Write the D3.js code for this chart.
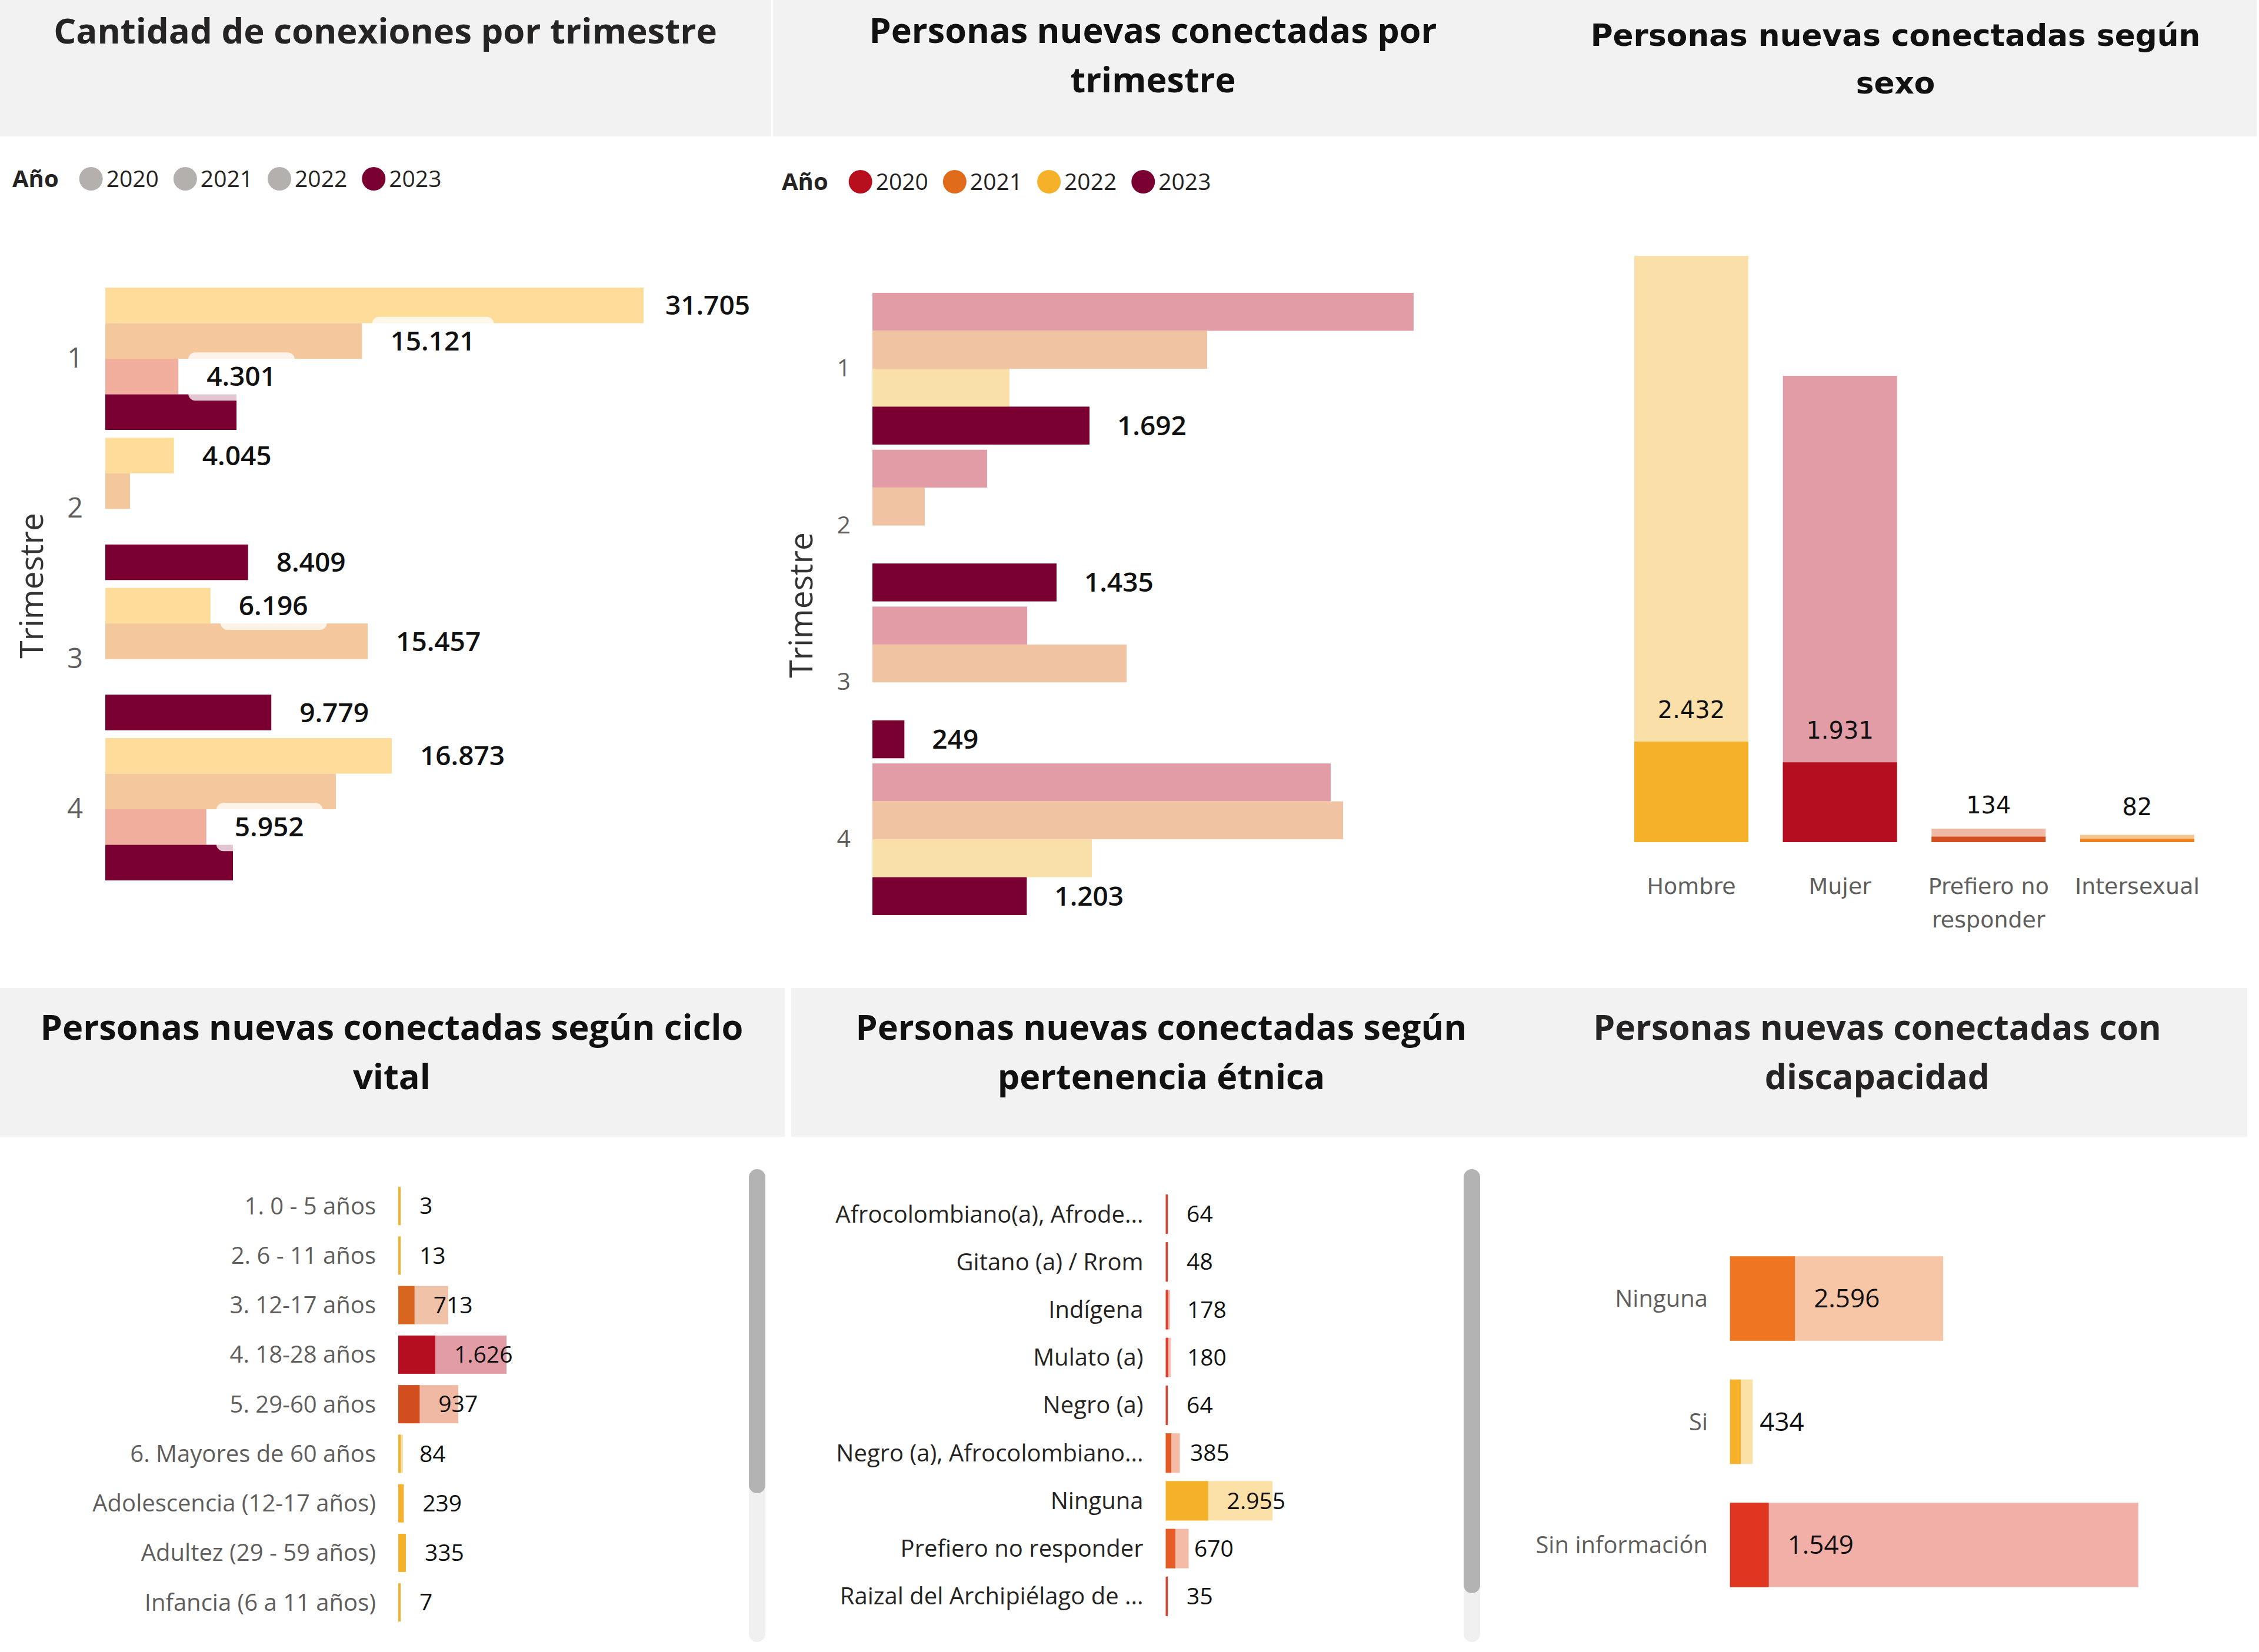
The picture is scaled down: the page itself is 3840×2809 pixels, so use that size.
<!DOCTYPE html>
<html><head><meta charset="utf-8">
<script src="https://cdn.jsdelivr.net/npm/d3@7"></script>
<style>
html,body{margin:0;padding:0;background:#fff;}
svg{display:block;}
</style></head><body>
<script>
// ================= DATA =================
const anios = ["2020", "2021", "2022", "2023"];
const trimestres = ["1", "2", "3", "4"];

// Cantidad de conexiones por trimestre (orden de barras dentro de cada trimestre, como en la imagen)
const conexOrden = ["2022", "2021", "2020", "2023"];
const conex2020 = [4301, null, null, 5952];
const conex2021 = [15121, 1455, 15457, 13583];
const conex2022 = [31705, 4045, 6196, 16873];
const conex2023 = [7727, 8409, 9779, 7519];
const conexEtiqueta2020 = [true, false, false, true];
const conexEtiqueta2021 = [true, false, true, false];
const conexEtiqueta2022 = [true, true, true, true];
const conexEtiqueta2023 = [false, true, true, false];

// Personas nuevas conectadas por trimestre
const pnc2020 = [4218, 894, 1206, 3572];
const pnc2021 = [2609, 408, 1981, 3668];
const pnc2022 = [1068, null, null, 1710];
const pnc2023 = [1692, 1435, 249, 1203];

// Personas nuevas conectadas según sexo
const sexoCategorias = ["Hombre", "Mujer", "Prefiero no responder", "Intersexual"];
const sexoTotal = [14182, 11280, 327, 178];
const sexo2023 = [2432, 1931, 134, 82];

// Ciclo vital
const cicloCategorias = ["1. 0 - 5 años", "2. 6 - 11 años", "3. 12-17 años", "4. 18-28 años",
  "5. 29-60 años", "6. Mayores de 60 años", "Adolescencia (12-17 años)", "Adultez (29 - 59 años)",
  "Infancia (6 a 11 años)"];
const cicloValor = [3, 13, 713, 1626, 937, 84, 239, 335, 7];
const cicloTotal = [3, 13, 2194, 4748, 2632, 206, 239, 335, 7];

// Pertenencia étnica
const etniaCategorias = ["Afrocolombiano(a), Afrode...", "Gitano (a) / Rrom", "Indígena", "Mulato (a)",
  "Negro (a)", "Negro (a), Afrocolombiano...", "Ninguna", "Prefiero no responder",
  "Raizal del Archipiélago de ..."];
const etniaValor = [64, 48, 178, 180, 64, 385, 2955, 670, 35];
const etniaTotal = [64, 48, 308, 370, 64, 985, 7452, 1600, 35];

// Discapacidad
const discCategorias = ["Ninguna", "Si", "Sin información"];
const discValor = [2596, 434, 1549];
const discTotal = [8527, 908, 16329];

// ================= STYLE =================
const SANS = "'Segoe UI', 'Open Sans', sans-serif";
const WIDE = "'DejaVu Sans', Verdana, sans-serif";
const conexColor = {"2022": "#fedc9a", "2021": "#f4c79d", "2020": "#f2ae9c", "2023": "#7b0032"};
const conexLegend = {"2020": "#b3b0ad", "2021": "#b3b0ad", "2022": "#b3b0ad", "2023": "#7b0032"};
const pncColor = {"2020": "#e19ca6", "2021": "#f0c4a3", "2022": "#f9e0a9", "2023": "#7b0032"};
const pncLegend = {"2020": "#b80f1f", "2021": "#e06b1a", "2022": "#f5b12a", "2023": "#7b0032"};
const sexoLight = ["#fae0a8", "#e19ca5", "#f0b9a5", "#f6c690"];
const sexoDark = ["#f5b12a", "#b50e20", "#d34f1f", "#e7821e"];
const cicloDark = ["#f5b12a", "#f5b12a", "#d9661f", "#b50e20", "#d24e1f", "#f5b12a", "#f5b12a", "#f5b12a", "#f5b12a"];
const cicloLight = ["#fae0a8", "#fae0a8", "#f0c3a8", "#e19ca5", "#efb9a4", "#fae0a8", "#fae0a8", "#fae0a8", "#fae0a8"];
const etniaDark = ["#e0402e", "#e0402e", "#e0402e", "#e0402e", "#e0402e", "#e35a25", "#f5b12a", "#e55c26", "#e0402e"];
const etniaLight = ["#f3b3ab", "#f3b3ab", "#f5bfb5", "#f5bfb5", "#f3b3ab", "#f4bba6", "#fbe0a8", "#f4bba6", "#f3b3ab"];
const discDark = ["#ee7623", "#f6b12a", "#e03520"];
const discLight = ["#f7c6a7", "#fbe0a8", "#f2afa7"];

const fmt = d3.formatLocale({decimal: ",", thousands: ".", grouping: [3], currency: ["$", ""]}).format(",d");

const W = 3840, H = 2809;
const svg = d3.select("body").append("svg").attr("width", W).attr("height", H)
  .style("background", "#fff");

// ---------- helpers ----------
function titleBox(x0, x1, y0, y1) {
  svg.append("rect").attr("x", x0).attr("y", y0).attr("width", x1 - x0).attr("height", y1 - y0).attr("fill", "#f2f2f2");
}
function title(lines, cx, baselines, targetWidth, family, color) {
  const t = svg.append("text").attr("font-family", family).attr("font-weight", "bold")
    .attr("font-size", 100).text(lines[0]);
  const w = t.node().getComputedTextLength(); t.remove();
  const fs = 100 * targetWidth / w;
  lines.forEach((ln, i) => {
    svg.append("text").attr("x", cx).attr("y", baselines[i]).attr("text-anchor", "middle")
      .attr("font-family", family).attr("font-weight", "bold").attr("font-size", fs)
      .attr("fill", color).text(ln);
  });
}
function legend(x, y, colors) {
  const g = svg.append("g");
  const lab = g.append("text").attr("x", x).attr("y", y).attr("dy", "0.35em")
    .attr("font-family", SANS).attr("font-weight", "bold").attr("font-size", 40).attr("fill", "#252423").text("Año");
  let cx = x + lab.node().getComputedTextLength() + 55;
  anios.forEach(a => {
    g.append("circle").attr("cx", cx).attr("cy", y).attr("r", 20).attr("fill", colors[a]);
    const t = g.append("text").attr("x", cx + 26).attr("y", y).attr("dy", "0.35em")
      .attr("font-family", SANS).attr("font-size", 39).attr("fill", "#252423").text(a);
    cx = cx + 26 + t.node().getComputedTextLength() + 45;
  });
}
function axisTitle(text, cx, cy) {
  svg.append("text").attr("transform", `translate(${cx},${cy}) rotate(-90)`).attr("dy", "0.35em")
    .attr("text-anchor", "middle").attr("font-family", SANS).attr("font-size", 55).attr("fill", "#333").text(text);
}

// ================= PANEL 1 =================
titleBox(0, 1311, 0, 232);
title(["Cantidad de conexiones por trimestre"], 655, [74], 1128, SANS, "#252423");
legend(21, 304, conexLegend);
{
  const x = d3.scaleLinear().domain([0, 34000]).range([179, 179 + 34000 * 0.02886]);
  const y = d3.scaleBand().domain(trimestres).range([489, 1497]).paddingInner(0.052);
  const yi = d3.scaleBand().domain(conexOrden).range([0, y.bandwidth()]);
  const series = {"2020": conex2020, "2021": conex2021, "2022": conex2022, "2023": conex2023};
  const showLab = {"2020": conexEtiqueta2020, "2021": conexEtiqueta2021, "2022": conexEtiqueta2022, "2023": conexEtiqueta2023};
  const items = [];
  trimestres.forEach((q, i) => conexOrden.forEach(a => {
    const v = series[a][i];
    if (v != null) items.push({q, a, v, lab: showLab[a][i]});
  }));
  svg.append("g").selectAll("rect").data(items).join("rect")
    .attr("x", x(0)).attr("y", d => y(d.q) + yi(d.a)).attr("width", d => x(d.v) - x(0))
    .attr("height", yi.bandwidth()).attr("fill", d => conexColor[d.a]);
  const ax = svg.append("g").attr("transform", `translate(${x(0)},0)`)
    .call(d3.axisLeft(y).tickSize(0).tickPadding(38));
  ax.select(".domain").remove();
  ax.selectAll("text").attr("font-family", SANS).attr("font-size", 47).attr("fill", "#605e5c");
  axisTitle("Trimestre", 54, 996);
  const lg = svg.append("g");
  items.filter(d => d.lab).forEach(d => {
    const cy = y(d.q) + yi(d.a) + yi.bandwidth() / 2;
    const t = lg.append("text").attr("y", cy).attr("dy", "0.35em").attr("font-family", SANS)
      .attr("font-size", 46).attr("font-weight", 600).attr("fill", "#111").text(fmt(d.v));
    const tw = t.node().getComputedTextLength();
    const tx = Math.min(x(d.v) + 48, 1275 - tw);
    t.attr("x", tx);
    lg.insert("rect", () => t.node()).attr("x", tx - 31).attr("y", cy - 41).attr("width", tw + 63)
      .attr("height", 82).attr("rx", 12).attr("fill", "#fff").attr("fill-opacity", 0.78);
  });
}

// ================= PANEL 2 =================
titleBox(1314, 2640, 0, 232);
title(["Personas nuevas conectadas por", "trimestre"], 1960, [73, 157], 965, SANS, "#111");
legend(1329, 309, pncLegend);
{
  const x = d3.scaleLinear().domain([0, 4500]).range([1483, 1483 + 4500 * 0.2181]);
  const y = d3.scaleBand().domain(trimestres).range([498, 1556]).paddingInner(0.033);
  const yi = d3.scaleBand().domain(anios).range([0, y.bandwidth()]);
  const series = {"2020": pnc2020, "2021": pnc2021, "2022": pnc2022, "2023": pnc2023};
  const items = [];
  trimestres.forEach((q, i) => anios.forEach(a => {
    const v = series[a][i];
    if (v != null) items.push({q, a, v});
  }));
  svg.append("g").selectAll("rect").data(items).join("rect")
    .attr("x", x(0)).attr("y", d => y(d.q) + yi(d.a)).attr("width", d => x(d.v) - x(0))
    .attr("height", yi.bandwidth()).attr("fill", d => pncColor[d.a]);
  const ax = svg.append("g").attr("transform", `translate(${x(0)},0)`)
    .call(d3.axisLeft(y).tickSize(0).tickPadding(37));
  ax.select(".domain").remove();
  ax.selectAll("text").attr("font-family", SANS).attr("font-size", 41).attr("fill", "#605e5c");
  axisTitle("Trimestre", 1362, 1029);
  svg.append("g").selectAll("text").data(items.filter(d => d.a === "2023")).join("text")
    .attr("x", d => x(d.v) + 47).attr("y", d => y(d.q) + yi(d.a) + yi.bandwidth() / 2).attr("dy", "0.35em")
    .attr("font-family", SANS).attr("font-size", 46).attr("font-weight", 600).attr("fill", "#111").text(d => fmt(d.v));
}

// ================= PANEL 3 =================
titleBox(2640, 3836, 0, 232);
title(["Personas nuevas conectadas según", "sexo"], 3222, [78, 159], 1037, WIDE, "#111");
{
  const x = d3.scaleBand().domain(sexoCategorias).range([2778, 3730]).paddingInner(0.232);
  const y = d3.scaleLinear().domain([0, 15000]).range([1432, 1432 - 15000 * 0.0703]);
  const data = sexoCategorias.map((c, i) => ({c, i, t: sexoTotal[i], v: sexo2023[i]}));
  const g = svg.append("g");
  g.selectAll("rect.t").data(data).join("rect").attr("class", "t")
    .attr("x", d => x(d.c)).attr("width", x.bandwidth()).attr("y", d => y(d.t))
    .attr("height", d => y(0) - y(d.t)).attr("fill", d => sexoLight[d.i]);
  g.selectAll("rect.v").data(data).join("rect").attr("class", "v")
    .attr("x", d => x(d.c)).attr("width", x.bandwidth()).attr("y", d => y(d.v))
    .attr("height", d => y(0) - y(d.v)).attr("fill", d => sexoDark[d.i]);
  g.selectAll("text.v").data(data).join("text").attr("class", "v")
    .attr("x", d => x(d.c) + x.bandwidth() / 2).attr("y", d => y(d.v) - 54).attr("dy", "0.35em")
    .attr("text-anchor", "middle").attr("font-family", WIDE).attr("font-size", 40).attr("fill", "#111")
    .text(d => fmt(d.v));
  const ax = svg.append("g").attr("transform", `translate(0,${y(0)})`)
    .call(d3.axisBottom(x).tickSize(0).tickPadding(61));
  ax.select(".domain").remove();
  ax.selectAll("text").attr("font-family", WIDE).attr("font-size", 38).attr("fill", "#605e5c")
    .each(function (d) {
      const el = d3.select(this);
      const words = d.split(" ");
      el.text(null);
      let line = [], lines = [];
      const probe = el.append("tspan");
      words.forEach(w => {
        line.push(w);
        probe.text(line.join(" "));
        if (probe.node().getComputedTextLength() > x.step() && line.length > 1) {
          line.pop(); lines.push(line.join(" ")); line = [w];
        }
      });
      lines.push(line.join(" "));
      probe.remove();
      lines.forEach((l, k) => el.append("tspan").attr("x", 0).attr("dy", k === 0 ? "0.71em" : "1.5em").text(l));
    });
}

// ================= PANEL 4 =================
titleBox(0, 1334, 1680, 1933);
title(["Personas nuevas conectadas según ciclo", "vital"], 666, [1768, 1852], 1195, SANS, "#111");
function hbarPanel(cats, vals, tots, dark, light, x, y, labX, labColor, fs, labFs, minW) {
  const data = cats.map((c, i) => ({c, i, v: vals[i], t: tots[i]}));
  const g = svg.append("g");
  g.selectAll("rect.t").data(data).join("rect").attr("class", "t")
    .attr("x", x(0)).attr("y", d => y(d.c)).attr("height", y.bandwidth())
    .attr("width", d => Math.max(x(d.t) - x(0), minW)).attr("fill", d => light[d.i]);
  g.selectAll("rect.v").data(data).join("rect").attr("class", "v")
    .attr("x", x(0)).attr("y", d => y(d.c)).attr("height", y.bandwidth())
    .attr("width", d => Math.max(x(d.v) - x(0), minW)).attr("fill", d => dark[d.i]);
  g.selectAll("text.c").data(data).join("text").attr("class", "c")
    .attr("x", labX).attr("y", d => y(d.c) + y.bandwidth() / 2).attr("dy", "0.35em")
    .attr("text-anchor", "end").attr("font-family", SANS).attr("font-size", fs).attr("fill", labColor)
    .text(d => d.c);
  g.selectAll("text.v").data(data).join("text").attr("class", "v")
    .attr("x", d => x(0) + Math.max(x(d.v) - x(0), minW) + 32).attr("y", d => y(d.c) + y.bandwidth() / 2)
    .attr("dy", "0.35em").attr("font-family", SANS).attr("font-size", labFs).attr("fill", "#111")
    .text(d => fmt(d.v));
}
function scrollbar(x0, y0, thumbEnd, y1) {
  svg.append("rect").attr("x", x0).attr("y", y0).attr("width", 28).attr("height", y1 - y0).attr("rx", 14).attr("fill", "#f0f0f0");
  svg.append("rect").attr("x", x0).attr("y", y0).attr("width", 28).attr("height", thumbEnd - y0).attr("rx", 14).attr("fill", "#b3b3b3");
}
{
  const x = d3.scaleLinear().domain([0, 6000]).range([677, 677 + 6000 * 0.03875]);
  const y = d3.scaleBand().domain(cicloCategorias).range([2008.5, 2766.8]).paddingInner(0.229).paddingOuter(0.1145);
  hbarPanel(cicloCategorias, cicloValor, cicloTotal, cicloDark, cicloLight, x, y, 639, "#605e5c", 40, 39, 4);
  scrollbar(1273, 1988, 2539, 2792);
}

// ================= PANEL 5 =================
titleBox(1345, 2600, 1680, 1933);
title(["Personas nuevas conectadas según", "pertenencia étnica"], 1974, [1768, 1852], 1039, SANS, "#111");
{
  const x = d3.scaleLinear().domain([0, 8000]).range([1981.6, 1981.6 + 8000 * 0.02437]);
  const y = d3.scaleBand().domain(etniaCategorias).range([2023.9, 2755]).paddingInner(0.175).paddingOuter(0.0875);
  hbarPanel(etniaCategorias, etniaValor, etniaTotal, etniaDark, etniaLight, x, y, 1943.5, "#252423", 40, 39, 3.5);
  scrollbar(2488, 1988, 2709, 2792);
}

// ================= PANEL 6 =================
titleBox(2600, 3820, 1680, 1933);
title(["Personas nuevas conectadas con", "discapacidad"], 3191, [1768, 1852], 966, SANS, "#252423");
{
  const x = d3.scaleLinear().domain([0, 18000]).range([2940.8, 2940.8 + 18000 * 0.0425]);
  const y = d3.scaleBand().domain(discCategorias).range([2103.25, 2731.75]).paddingInner(0.3146).paddingOuter(0.1573);
  hbarPanel(discCategorias, discValor, discTotal, discDark, discLight, x, y, 2903, "#605e5c", 40, 44, 3);
}
</script>
</body></html>
